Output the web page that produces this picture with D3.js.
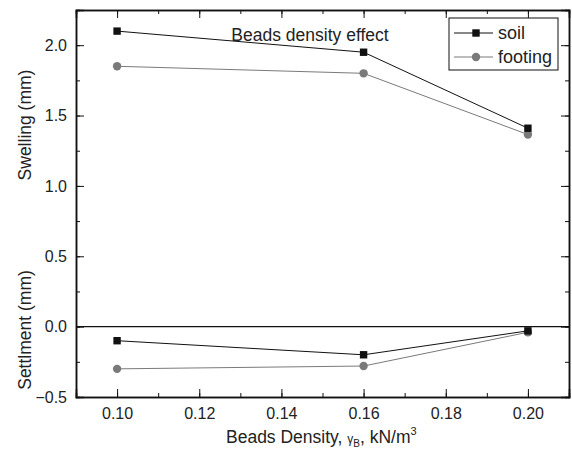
<!DOCTYPE html>
<html>
<head>
<meta charset="utf-8">
<script src="https://cdn.jsdelivr.net/npm/d3@7"></script>
<style>
  body { margin: 0; background: #fff; }
  text { font-family: "Liberation Sans", Arial, sans-serif; fill: #222; }
</style>
</head>
<body>
<div id="chart"></div>
<script>
// data
var density = [0.10, 0.16, 0.20];
var soilSwell = [2.10, 1.95, 1.41];
var footSwell = [1.85, 1.80, 1.365];
var soilSettle = [-0.10, -0.20, -0.03];
var footSettle = [-0.30, -0.28, -0.04];
var xTicks = [0.10, 0.12, 0.14, 0.16, 0.18, 0.20];
var yTicks = [-0.5, 0.0, 0.5, 1.0, 1.5, 2.0];

var W = 572, H = 457;
var margin = {top: 10, right: 3, bottom: 60, left: 76},
    width = 569 - margin.left,
    height = 397 - margin.top;

var svg = d3.select("#chart")
  .append("svg")
    .attr("width", W)
    .attr("height", H)
  .append("g")
    .attr("transform", "translate(" + margin.left + "," + margin.top + ")");

var x = d3.scaleLinear().domain([0.09, 0.21]).range([0, width]);
var y = d3.scaleLinear().domain([-0.5, 2.25]).range([height, 0]);

var xMinor = d3.range(0.09, 0.2101, 0.01);
var yMinor = d3.range(-0.5, 2.26, 0.25);

// minor ticks (inward, all four sides)
function minorTicks(g, axis, scale, vals) {
  g.call(axis(scale).tickValues(vals).tickSize(-4).tickFormat(""));
}
svg.append("g").attr("transform", "translate(0," + height + ")")
  .call(minorTicks, d3.axisBottom, x, xMinor);
svg.append("g").call(minorTicks, d3.axisTop, x, xMinor);
svg.append("g").call(minorTicks, d3.axisLeft, y, yMinor);
svg.append("g").attr("transform", "translate(" + width + ",0)")
  .call(minorTicks, d3.axisRight, y, yMinor);

// major ticks
var xAxis = svg.append("g")
  .attr("transform", "translate(0," + height + ")")
  .call(d3.axisBottom(x).tickValues(xTicks).tickSize(-8).tickPadding(11).tickFormat(d3.format(".2f")));
svg.append("g").call(d3.axisTop(x).tickValues(xTicks).tickSize(-8).tickFormat(""));
var yAxis = svg.append("g")
  .call(d3.axisLeft(y).tickValues(yTicks).tickSize(-8).tickPadding(9).tickFormat(d3.format(".1f")));
svg.append("g").attr("transform", "translate(" + width + ",0)")
  .call(d3.axisRight(y).tickValues(yTicks).tickSize(-8).tickFormat(""));

svg.selectAll(".domain").attr("stroke", "#111").attr("stroke-width", 1.5);
svg.selectAll(".tick line").attr("stroke", "#111").attr("stroke-width", 1);
svg.selectAll(".tick text").style("font-size", "16px").attr("fill", "#222");

// zero line
svg.append("line")
  .attr("x1", 0).attr("x2", width)
  .attr("y1", y(0)).attr("y2", y(0))
  .attr("stroke", "#111").attr("stroke-width", 1.2);

var line = d3.line()
  .x(function(d, i) { return x(density[i]); })
  .y(function(d) { return y(d); });

var series = [
  {vals: footSwell, color: "#7a7a7a", shape: "circle"},
  {vals: footSettle, color: "#7a7a7a", shape: "circle"},
  {vals: soilSwell, color: "#111", shape: "square"},
  {vals: soilSettle, color: "#111", shape: "square"}
];

series.forEach(function(s) {
  svg.append("path")
    .datum(s.vals)
    .attr("fill", "none")
    .attr("stroke", s.color)
    .attr("stroke-width", 1)
    .attr("d", line);
  if (s.shape == "circle") {
    svg.selectAll(null).data(s.vals).enter()
      .append("circle")
      .attr("cx", function(d, i) { return x(density[i]); })
      .attr("cy", function(d) { return y(d); })
      .attr("r", 4.2)
      .attr("fill", s.color);
  } else {
    svg.selectAll(null).data(s.vals).enter()
      .append("rect")
      .attr("x", function(d, i) { return x(density[i]) - 3.7; })
      .attr("y", function(d) { return y(d) - 3.7; })
      .attr("width", 7.4).attr("height", 7.4)
      .attr("fill", s.color);
  }
});

// title inside plot
svg.append("text")
  .attr("x", 310 - margin.left).attr("y", 41 - margin.top)
  .attr("text-anchor", "middle")
  .style("font-size", "17.5px")
  .text("Beads density effect");

// legend
var lg = svg.append("g").attr("transform", "translate(" + (449 - margin.left) + "," + (18 - margin.top) + ")");
lg.append("rect").attr("width", 109).attr("height", 52)
  .attr("fill", "#fff").attr("stroke", "#111").attr("stroke-width", 1);
[{name: "soil", color: "#111", shape: "square", yy: 15},
 {name: "footing", color: "#7a7a7a", shape: "circle", yy: 39}].forEach(function(e) {
  lg.append("line").attr("x1", 5).attr("x2", 44).attr("y1", e.yy).attr("y2", e.yy)
    .attr("stroke", e.color).attr("stroke-width", 1);
  if (e.shape == "circle") {
    lg.append("circle").attr("cx", 27).attr("cy", e.yy).attr("r", 4.2).attr("fill", e.color);
  } else {
    lg.append("rect").attr("x", 23.3).attr("y", e.yy - 3.7).attr("width", 7.4).attr("height", 7.4).attr("fill", e.color);
  }
  lg.append("text").attr("x", 49).attr("y", e.yy + 6)
    .style("font-size", "18px").text(e.name);
});

// axis labels
svg.append("text")
  .attr("transform", "translate(" + (31 - margin.left) + "," + (125 - margin.top) + ") rotate(-90)")
  .attr("text-anchor", "middle")
  .style("font-size", "17.5px")
  .text("Swelling (mm)");
svg.append("text")
  .attr("transform", "translate(" + (31 - margin.left) + "," + (330 - margin.top) + ") rotate(-90)")
  .attr("text-anchor", "middle")
  .style("font-size", "17.5px")
  .text("Settlment (mm)");

var xl = svg.append("text")
  .attr("x", 226 - margin.left).attr("y", 443 - margin.top)
  .style("font-size", "17.5px");
xl.append("tspan").text("Beads Density, ");
xl.append("tspan").style("font-size", "12px").text("γ");
xl.append("tspan").style("font-size", "10px").attr("dy", 4).text("B");
xl.append("tspan").attr("dy", -4).text(", kN/m");
xl.append("tspan").style("font-size", "11px").attr("dy", -8).text("3");
</script>
</body>
</html>
